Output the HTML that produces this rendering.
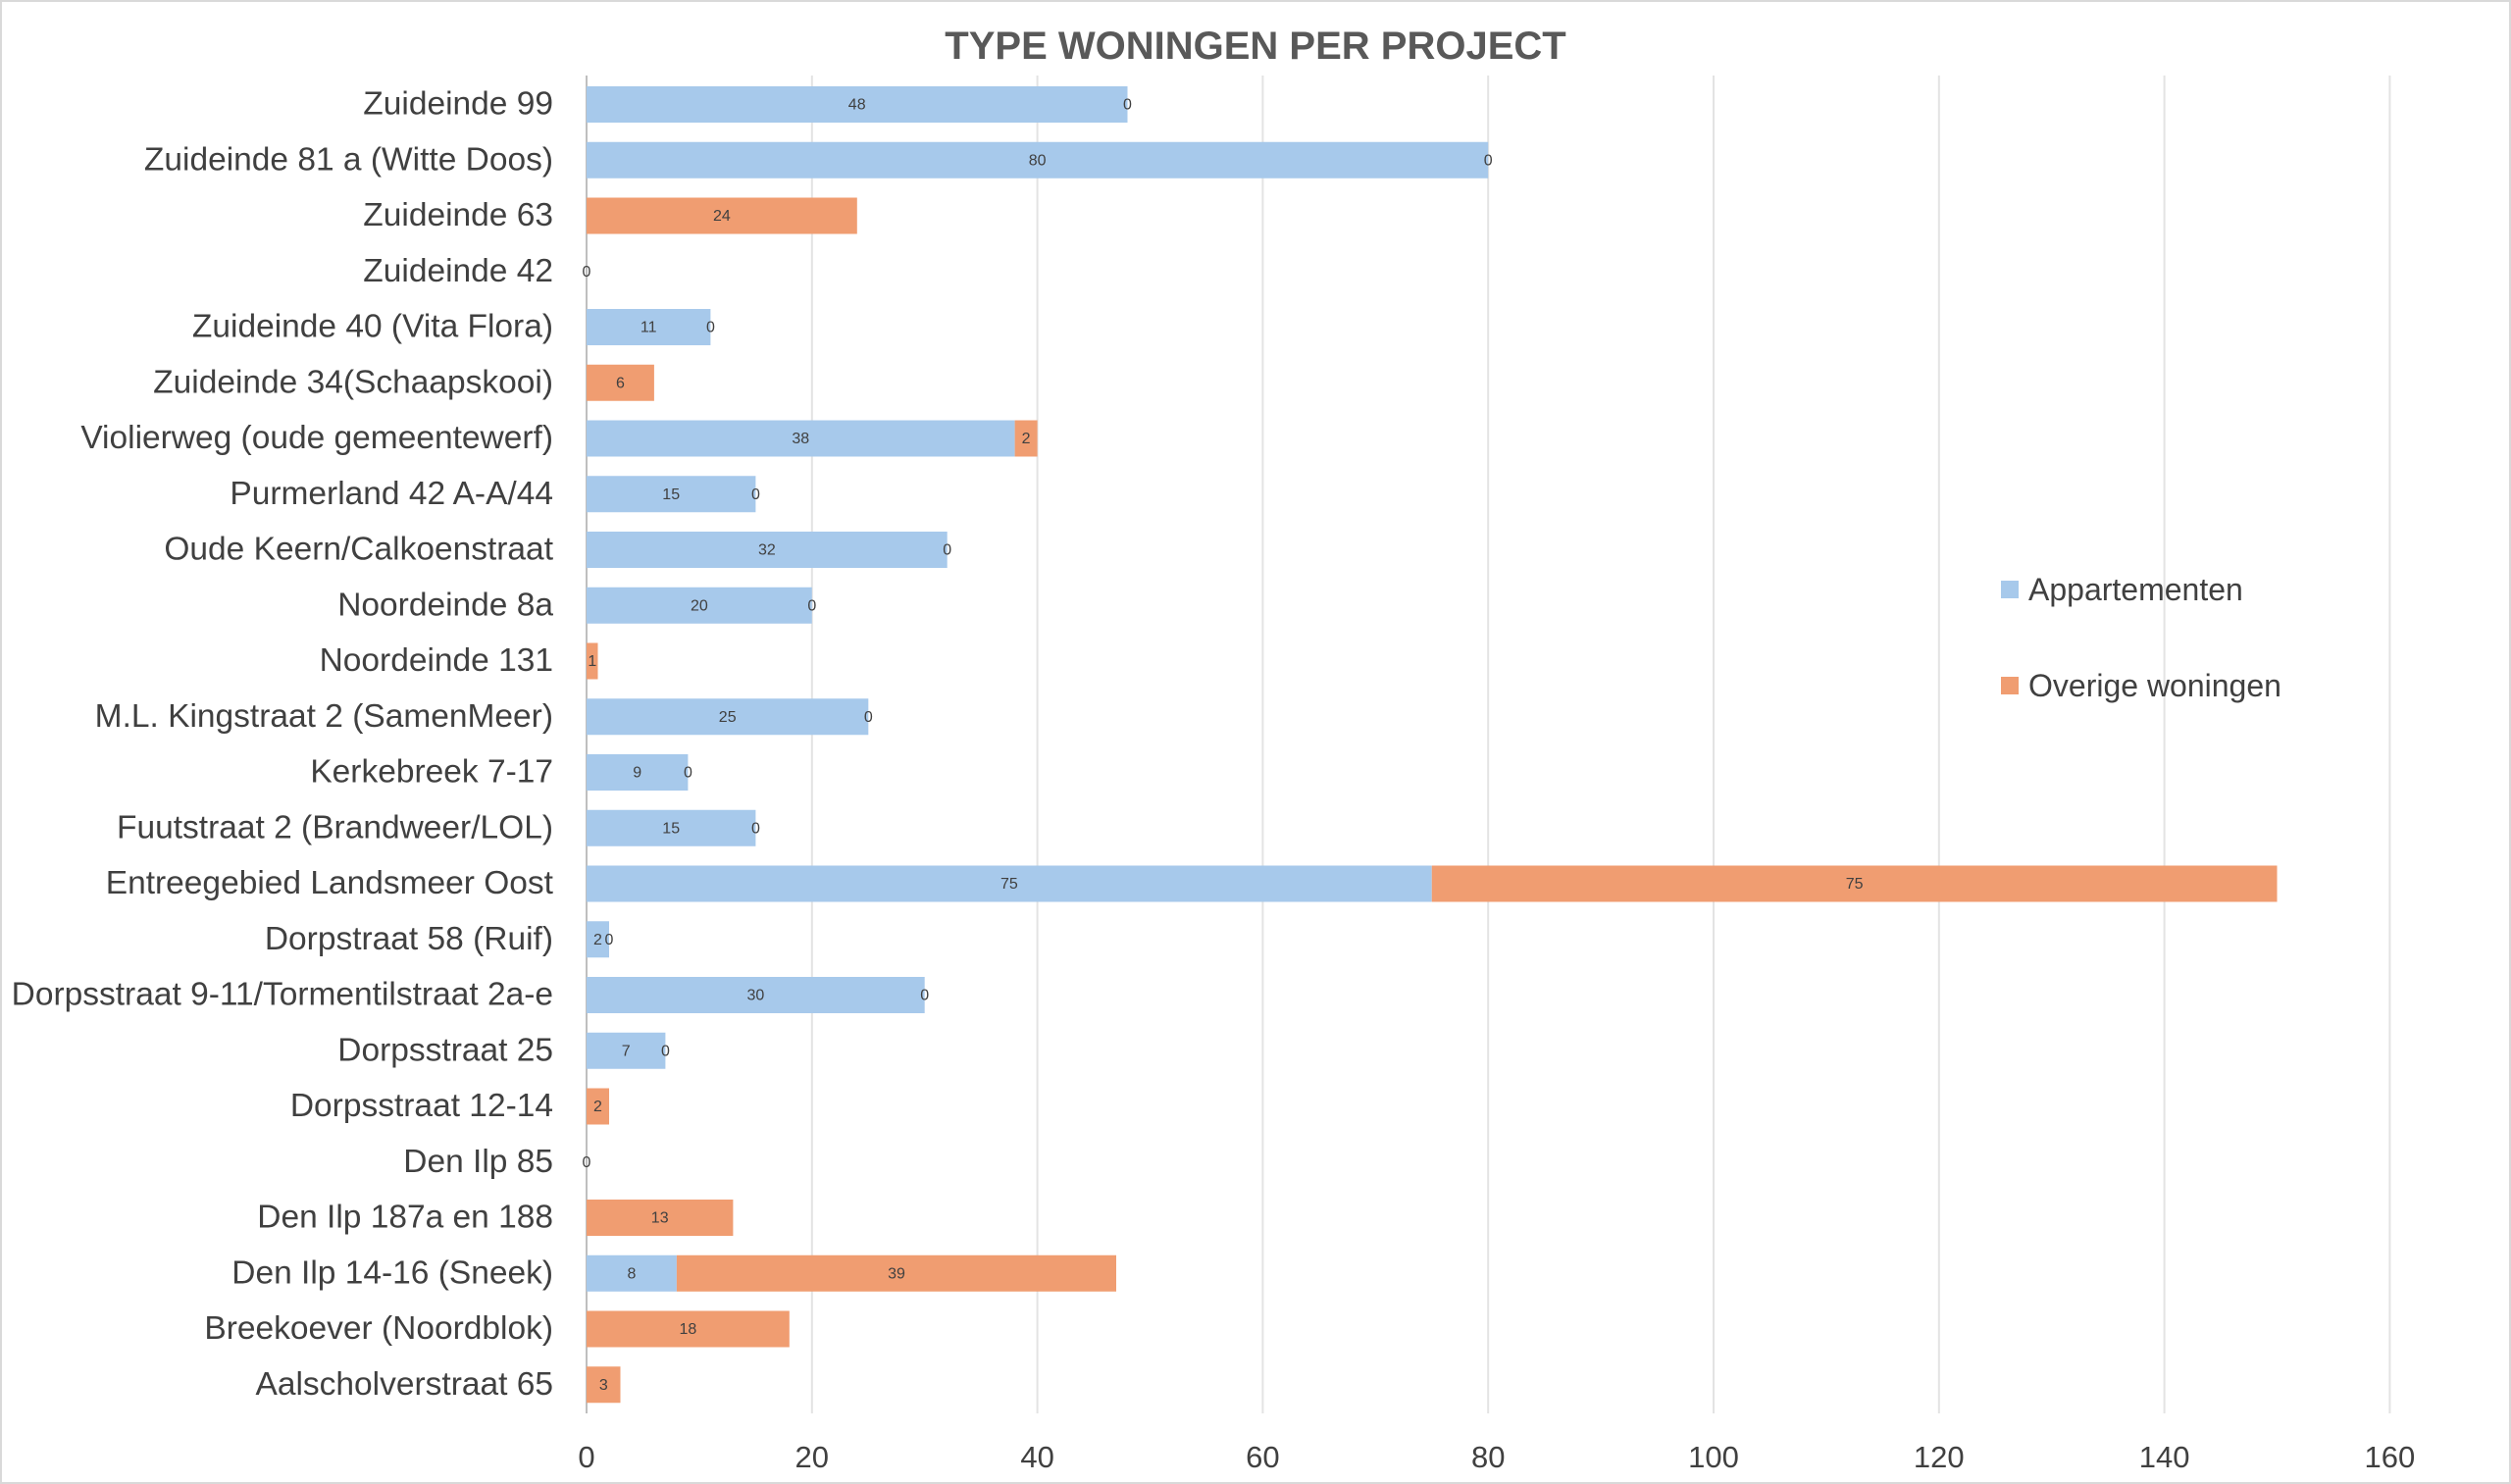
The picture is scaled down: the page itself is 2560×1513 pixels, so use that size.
<!DOCTYPE html>
<html><head><meta charset="utf-8"><style>
html,body{margin:0;padding:0;background:#fff;}
svg{display:block;font-family:"Liberation Sans",sans-serif;}
</style></head><body>
<svg width="2560" height="1513" viewBox="0 0 2560 1513" xmlns="http://www.w3.org/2000/svg">
<rect x="1" y="1" width="2558" height="1511" fill="#fff" stroke="#d9d9d9" stroke-width="2"/>
<text x="1280" y="60" text-anchor="middle" font-size="40" font-weight="bold" fill="#595959">TYPE WONINGEN PER PROJECT</text>
<g stroke="#e3e3e3" stroke-width="2">
<line x1="827.8" y1="77" x2="827.8" y2="1441"/><line x1="1057.6" y1="77" x2="1057.6" y2="1441"/>
<line x1="1287.4" y1="77" x2="1287.4" y2="1441"/><line x1="1517.2" y1="77" x2="1517.2" y2="1441"/>
<line x1="1747" y1="77" x2="1747" y2="1441"/><line x1="1976.8" y1="77" x2="1976.8" y2="1441"/>
<line x1="2206.6" y1="77" x2="2206.6" y2="1441"/><line x1="2436.4" y1="77" x2="2436.4" y2="1441"/>
</g>
<line x1="598" y1="77" x2="598" y2="1441" stroke="#bfbfbf" stroke-width="2"/>
<g font-size="31" fill="#404040" text-anchor="middle">
<text x="598" y="1496">0</text><text x="827.8" y="1496">20</text><text x="1057.6" y="1496">40</text>
<text x="1287.4" y="1496">60</text><text x="1517.2" y="1496">80</text><text x="1747" y="1496">100</text>
<text x="1976.8" y="1496">120</text><text x="2206.6" y="1496">140</text><text x="2436.4" y="1496">160</text>
</g>
<g font-size="33.5" fill="#404040" text-anchor="end" dominant-baseline="central">
<text x="564" y="106">Zuideinde 99</text>
<text x="564" y="162.75">Zuideinde 81 a (Witte Doos)</text>
<text x="564" y="219.5">Zuideinde 63</text>
<text x="564" y="276.25">Zuideinde 42</text>
<text x="564" y="333">Zuideinde 40 (Vita Flora)</text>
<text x="564" y="389.75">Zuideinde 34(Schaapskooi)</text>
<text x="564" y="446.5">Violierweg (oude gemeentewerf)</text>
<text x="564" y="503.25">Purmerland 42 A-A/44</text>
<text x="564" y="560">Oude Keern/Calkoenstraat</text>
<text x="564" y="616.75">Noordeinde 8a</text>
<text x="564" y="673.5">Noordeinde 131</text>
<text x="564" y="730.25">M.L. Kingstraat 2 (SamenMeer)</text>
<text x="564" y="787">Kerkebreek 7-17</text>
<text x="564" y="843.75">Fuutstraat 2 (Brandweer/LOL)</text>
<text x="564" y="900.5">Entreegebied Landsmeer Oost</text>
<text x="564" y="957.25">Dorpstraat 58 (Ruif)</text>
<text x="564" y="1014">Dorpsstraat 9-11/Tormentilstraat 2a-e</text>
<text x="564" y="1070.75">Dorpsstraat 25</text>
<text x="564" y="1127.5">Dorpsstraat 12-14</text>
<text x="564" y="1184.25">Den Ilp 85</text>
<text x="564" y="1241">Den Ilp 187a en 188</text>
<text x="564" y="1297.75">Den Ilp 14-16 (Sneek)</text>
<text x="564" y="1354.5">Breekoever (Noordblok)</text>
<text x="564" y="1411.25">Aalscholverstraat 65</text>
</g>
<g fill="#a7c9eb">
<rect x="598" y="88" width="551.5" height="37"/>
<rect x="598" y="144.75" width="919.2" height="37"/>
<rect x="598" y="315" width="126.4" height="37"/>
<rect x="598" y="428.5" width="436.6" height="37"/>
<rect x="598" y="485.25" width="172.4" height="37"/>
<rect x="598" y="542" width="367.7" height="37"/>
<rect x="598" y="598.75" width="229.8" height="37"/>
<rect x="598" y="712.25" width="287.3" height="37"/>
<rect x="598" y="769" width="103.4" height="37"/>
<rect x="598" y="825.75" width="172.4" height="37"/>
<rect x="598" y="882.5" width="861.75" height="37"/>
<rect x="598" y="939.25" width="23" height="37"/>
<rect x="598" y="996" width="344.7" height="37"/>
<rect x="598" y="1052.75" width="80.4" height="37"/>
<rect x="598" y="1279.75" width="91.9" height="37"/>
</g>
<g fill="#f09d71">
<rect x="598" y="201.5" width="275.8" height="37"/>
<rect x="598" y="371.75" width="68.9" height="37"/>
<rect x="1034.6" y="428.5" width="23" height="37"/>
<rect x="598" y="655.5" width="11.5" height="37"/>
<rect x="1459.75" y="882.5" width="861.75" height="37"/>
<rect x="598" y="1109.5" width="23" height="37"/>
<rect x="598" y="1223" width="149.4" height="37"/>
<rect x="689.9" y="1279.75" width="448.1" height="37"/>
<rect x="598" y="1336.5" width="206.8" height="37"/>
<rect x="598" y="1393.25" width="34.5" height="37"/>
</g>
<g font-size="16" fill="#404040" text-anchor="middle" dominant-baseline="central">
<text x="873.7" y="107">48</text><text x="1149.5" y="107">0</text>
<text x="1057.6" y="163.75">80</text><text x="1517.2" y="163.75">0</text>
<text x="735.9" y="220.5">24</text>
<text x="598" y="277.25">0</text>
<text x="661.2" y="334">11</text><text x="724.4" y="334">0</text>
<text x="632.5" y="390.75">6</text>
<text x="816.3" y="447.5">38</text><text x="1046.1" y="447.5">2</text>
<text x="684.2" y="504.25">15</text><text x="770.4" y="504.25">0</text>
<text x="781.9" y="561">32</text><text x="965.7" y="561">0</text>
<text x="712.9" y="617.75">20</text><text x="827.8" y="617.75">0</text>
<text x="603.8" y="674.5">1</text>
<text x="741.7" y="731.25">25</text><text x="885.3" y="731.25">0</text>
<text x="649.7" y="788">9</text><text x="701.4" y="788">0</text>
<text x="684.2" y="844.75">15</text><text x="770.4" y="844.75">0</text>
<text x="1028.9" y="901.5">75</text><text x="1890.6" y="901.5">75</text>
<text x="609.5" y="958.25">2</text><text x="621" y="958.25">0</text>
<text x="770.4" y="1015">30</text><text x="942.7" y="1015">0</text>
<text x="638.2" y="1071.75">7</text><text x="678.4" y="1071.75">0</text>
<text x="609.5" y="1128.5">2</text>
<text x="598" y="1185.25">0</text>
<text x="672.7" y="1242">13</text>
<text x="644" y="1298.75">8</text><text x="914" y="1298.75">39</text>
<text x="701.4" y="1355.5">18</text>
<text x="615.3" y="1412.25">3</text>
</g>
<rect x="2040" y="592" width="18" height="18" fill="#a7c9eb"/>
<text x="2068" y="612" font-size="32" fill="#404040">Appartementen</text>
<rect x="2040" y="690" width="18" height="18" fill="#f09d71"/>
<text x="2068" y="710" font-size="32" fill="#404040">Overige woningen</text>
</svg>
</body></html>
